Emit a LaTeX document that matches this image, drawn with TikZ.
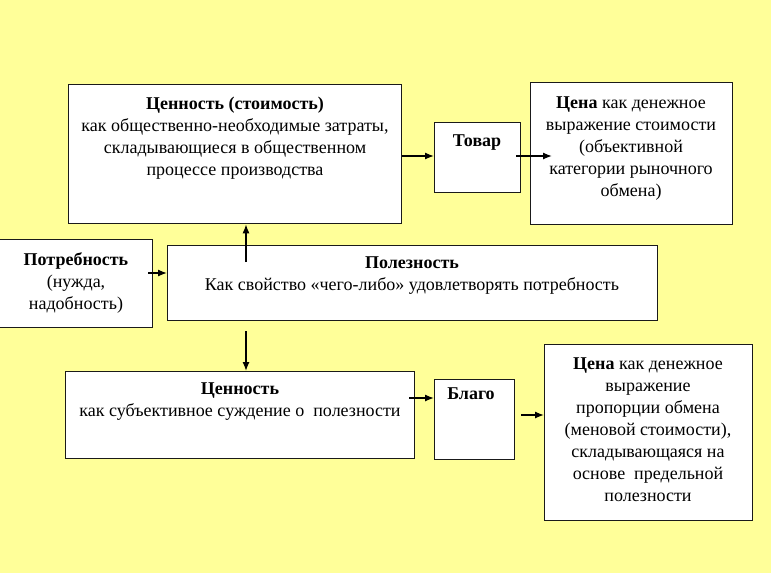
\documentclass[tikz,border=0pt]{standalone}
\usepackage{fontspec}
\setmainfont{Liberation Serif}
\usetikzlibrary{arrows.meta}
\definecolor{bgyel}{HTML}{FFFF99}
\definecolor{edge}{HTML}{1A1A1A}
\tikzset{
  box/.style={draw=edge, line width=1.3pt, fill=white, rectangle, inner sep=0pt, anchor=north west},
  txt/.style={align=center, inner sep=0pt, font=\fontsize{18}{22}\selectfont},
  arr/.style={draw=black, line width=1.3pt, -{Latex[length=9pt,width=7pt]}}
}
\newcommand{\pbox}[5]{\node[box, minimum width=#4pt, minimum height=#5pt] (#1) at (#2,#3) {};}
\begin{document}
\begin{tikzpicture}[x=1pt,y=-1pt]
\fill[bgyel] (0,0) rectangle (771,573);
\useasboundingbox (0,0) rectangle (771,573);
% boxes
\pbox{b1}{68}{84}{333}{139}
\pbox{tovar}{434}{122}{86}{70}
\pbox{cena1}{530}{82}{202}{142}
\pbox{potr}{-1}{239}{153}{88}
\pbox{polezn}{167}{245}{490}{75}
\pbox{cen2}{65}{371}{349}{87}
\pbox{blago}{434}{379}{80}{80}
\pbox{cena2}{544}{344}{208}{176}
% texts
\node[txt] (t1) at (235,138) {\textbf{Ценность (стоимость)}\\как общественно-необходимые затраты,\\складывающиеся в общественном\\процессе производства};
\node[txt] (t2) at (477,143) {\textbf{Товар}};
\node[txt] (t3) at (631,149) {\textbf{Цена} как денежное\\выражение стоимости\\(объективной\\категории рыночного\\обмена)};
\node[txt] (t4) at (76,283) {\textbf{Потребность}\\(нужда,\\надобность)};
\node[txt] (t5) at (412,276) {\textbf{Полезность}\\Как свойство «чего-либо» удовлетворять потребность};
\node[txt] (t6) at (240,402) {\textbf{Ценность}\\как субъективное суждение о\ \ полезности};
\node[txt] (t7) at (471,394) {\textbf{Благо}};
\node[txt] (t8) at (648,430) {\textbf{Цена} как денежное\\выражение\\пропорции обмена\\(меновой стоимости),\\складывающаяся на\\основе\ \ предельной\\полезности};
% helper coordinates
\coordinate (ya) at (0,156);
\coordinate (vx) at (246,0);
\coordinate (py) at (0,273);
\coordinate (by) at (0,398);
\coordinate (cy) at (0,415);
% connectors
\draw[arr] (b1.east |- ya) -- (tovar.west |- ya);
\draw[arr] ([xshift=-5pt]tovar.east |- ya) -- ([xshift=22pt]cena1.west |- ya);
\draw[arr] ([yshift=-17pt]polezn.north -| vx) -- (b1.south -| vx);
\draw[arr] ([xshift=-5pt]potr.east |- py) -- (polezn.west |- py);
\draw[arr] ([yshift=-10pt]polezn.south -| vx) -- (cen2.north -| vx);
\draw[arr] ([xshift=-6pt]cen2.east |- by) -- (blago.west |- by);
\draw[arr] ([xshift=6pt]blago.east |- cy) -- (cena2.west |- cy);
\end{tikzpicture}
\end{document}
